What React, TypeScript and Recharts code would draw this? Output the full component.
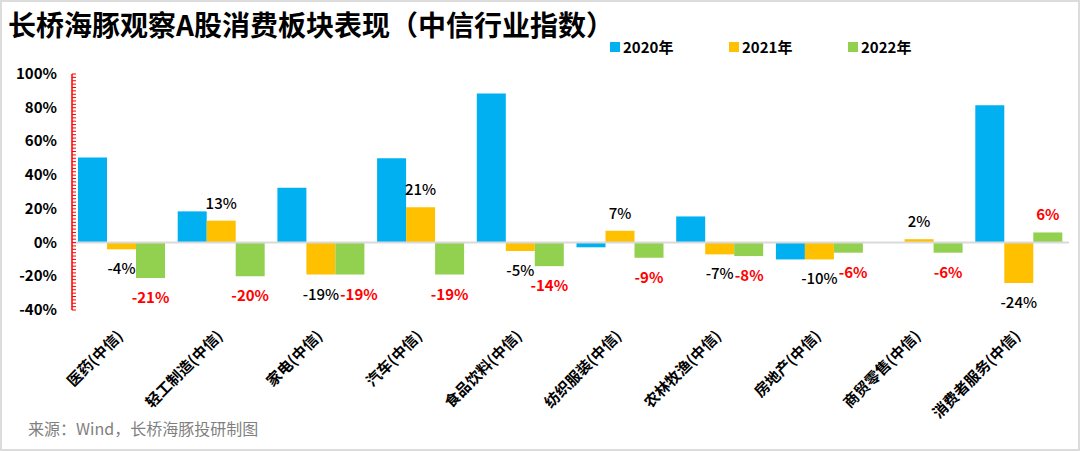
import React from 'react';
import { BarChart, Bar, XAxis, YAxis, ReferenceLine, LabelList, Legend } from 'recharts';

const categories = [
  '医药(中信)', '轻工制造(中信)', '家电(中信)', '汽车(中信)', '食品饮料(中信)',
  '纺织服装(中信)', '农林牧渔(中信)', '房地产(中信)', '商贸零售(中信)', '消费者服务(中信)',
];
const y2020 = [50.5, 18.5, 32.5, 50, 88.5, -2.8, 15.5, -10, 0, 81.5];
const y2021 = [-4, 13, -19, 21, -5, 7, -7, -10, 2, -24];
const y2022 = [-21, -20, -19, -19, -14, -9, -8, -6, -6, 6];
const minorTicks = Array.from({ length: 71 }, (_, i) => -40 + i * 2);

const seriesList = [
  { key: 'y2020', name: '2020年', color: '#00B0F0' },
  { key: 'y2021', name: '2021年', color: '#FFC000' },
  { key: 'y2022', name: '2022年', color: '#92D050' },
];

const data = categories.map((name, i) => ({
  name,
  y2020: y2020[i],
  y2021: y2021[i],
  y2022: y2022[i],
}));

const FONT = '"Noto Sans CJK SC", "Noto Sans", sans-serif';

const YTick = ({ y, payload }: any) => {
  const v = payload.value;
  const major = v % 20 === 0;
  return (
    <g>
      <line x1={72} x2={76} y1={y} y2={y} stroke="#FF0000" strokeWidth={1} />
      {major && (
        <text x={57} y={y + 5} textAnchor="end" fontSize={15} fontWeight={700} fill="#000" fontFamily={FONT}>
          {`${v}%`}
        </text>
      )}
    </g>
  );
};

const CatTick = ({ x, y, payload }: any) => {
  const ax = x + 2;
  const ay = y + 19;
  return (
    <text x={ax} y={ay} textAnchor="end" transform={`rotate(-45 ${ax} ${ay})`}
      fontSize={15} fontWeight={700} fill="#000" fontFamily={FONT}>
      {payload.value}
    </text>
  );
};

const textW = (s: string) => s.length * 8.5;

// orange labels: black; green labels: red bold, nudged right when they'd collide with the orange one
const makeLabel = (color: string, weight: number, avoid: boolean) => (props: any) => {
  const { x, y, width, height, value, index } = props;
  if (value == null) return null;
  const top = Math.min(y, y + height);
  const bottom = Math.max(y, y + height);
  let cx = x + width / 2;
  const label = `${value}%`;
  if (avoid) {
    const other = y2021[index];
    if (value < 0 && other < 0 && Math.abs(other - value) < 8) {
      const otherLabel = `${other}%`;
      const need = (textW(label) + textW(otherLabel)) / 2 + 4;
      const oc = cx - width;
      if (cx - oc < need) cx = oc + need;
    }
  }
  const ty = value < 0 ? bottom + 25 : top - 12;
  return (
    <text x={cx} y={ty} textAnchor="middle" fontSize={15} fontWeight={weight} fill={color} fontFamily={FONT}>
      {label}
    </text>
  );
};

const LegendBox = () => (
  <div style={{ display: 'flex', fontFamily: FONT, fontSize: 15, fontWeight: 700, color: '#000' }}>
    {seriesList.map((s) => (
      <div key={s.key} style={{ display: 'flex', alignItems: 'center', width: 119 }}>
        <div style={{ width: 10, height: 10, background: s.color, marginRight: 3 }} />
        <span>{s.name}</span>
      </div>
    ))}
  </div>
);

export default function App() {
  return (
    <div style={{ position: 'absolute', left: 0, top: 0, width: 1080, height: 451, background: '#fff', overflow: 'hidden' }}>
      <div style={{ position: 'absolute', left: 8, top: 4, fontFamily: FONT, fontSize: 28, fontWeight: 700, color: '#000', whiteSpace: 'nowrap' }}>
        长桥海豚观察A股消费板块表现（中信行业指数）
      </div>
      <div style={{ position: 'absolute', left: 28, top: 416, fontFamily: FONT, fontSize: 16, color: '#7F7F7F', whiteSpace: 'nowrap' }}>
        来源：Wind，长桥海豚投研制图
      </div>
      <div style={{ position: 'absolute', left: 0, top: 0 }}>
        <BarChart width={1080} height={451} data={data}
          margin={{ top: 74, right: 11, bottom: 101, left: 0 }} barGap={0} barSize={29}>
          <XAxis dataKey="name" height={40} axisLine={false} tickLine={false} interval={0} tick={<CatTick />} />
          <YAxis width={72} domain={[-40, 100]} ticks={minorTicks} interval={0} tickLine={false}
            axisLine={{ stroke: '#FF0000', strokeWidth: 1.5 }} tick={<YTick />} allowDataOverflow />
          <ReferenceLine y={0} stroke="#D9D9D9" strokeWidth={2} />
          <Legend layout="horizontal" verticalAlign="middle" align="center"
            wrapperStyle={{ top: 36, left: 610, width: 400 }} content={<LegendBox />} />
          <Bar dataKey="y2020" name="2020年" fill="#00B0F0" isAnimationActive={false} />
          <Bar dataKey="y2021" name="2021年" fill="#FFC000" isAnimationActive={false}>
            <LabelList dataKey="y2021" content={makeLabel('#000', 500, false)} />
          </Bar>
          <Bar dataKey="y2022" name="2022年" fill="#92D050" isAnimationActive={false}>
            <LabelList dataKey="y2022" content={makeLabel('#FF0000', 700, true)} />
          </Bar>
        </BarChart>
      </div>
      <div style={{ position: 'absolute', left: 0, top: 0, width: 1080, height: 451, boxSizing: 'border-box', border: '2px solid #DCDCDC', pointerEvents: 'none' }} />
    </div>
  );
}
